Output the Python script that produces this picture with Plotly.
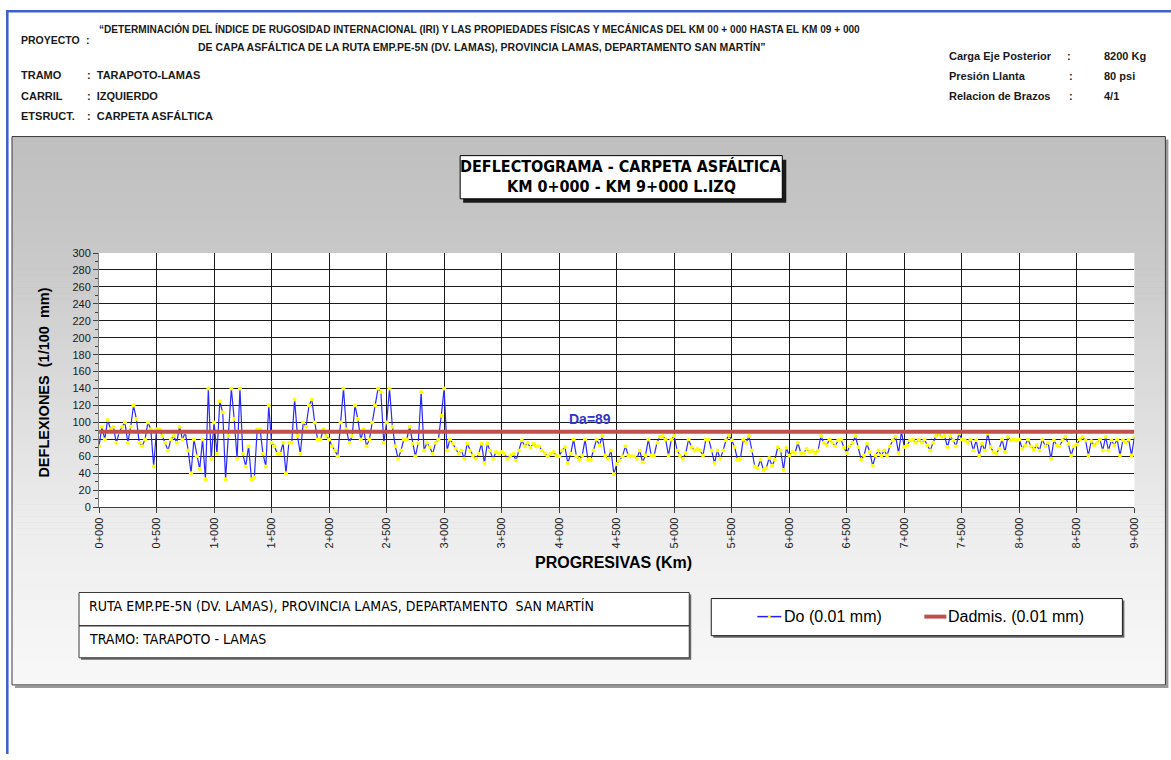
import plotly.graph_objects as go

W, H = 1171, 760
# placement of the figure on the rendered page (scale and offset, in px)
SX, SY = 0.9894, 0.980
DX, DY = 6.0, 7.0

# Progresivas (m) every 25 m along the lane, 0+000 to 9+000
estacion_m = list(range(0, 9001, 25))

# Deflexión Do (1/100 mm) measured at each station
deflexion_do = [
    72, 95, 80, 103, 92, 95, 76, 88, 95, 100, 76, 95, 120, 104, 76, 72, 80, 100, 92, 48,
    92, 92, 84, 76, 67, 80, 84, 76, 95, 80, 88, 67, 40, 80, 60, 45, 80, 33, 140, 57,
    100, 63, 125, 112, 33, 84, 140, 104, 57, 140, 63, 48, 72, 33, 35, 92, 92, 63, 48, 120,
    76, 72, 63, 63, 76, 40, 76, 76, 127, 84, 63, 100, 95, 120, 127, 100, 80, 80, 92, 84,
    80, 72, 67, 60, 100, 140, 92, 76, 84, 120, 104, 80, 92, 72, 80, 100, 120, 140, 136, 76,
    100, 140, 95, 72, 57, 67, 80, 80, 95, 75, 60, 76, 136, 67, 76, 71, 63, 76, 80, 108,
    140, 67, 80, 75, 69, 63, 67, 57, 75, 67, 61, 57, 63, 75, 52, 75, 67, 57, 65, 63,
    65, 63, 57, 61, 63, 55, 67, 79, 72, 76, 70, 75, 72, 72, 67, 64, 60, 63, 65, 61,
    60, 67, 71, 52, 63, 80, 60, 56, 61, 80, 56, 56, 67, 80, 73, 84, 61, 57, 67, 39,
    51, 55, 60, 72, 61, 60, 60, 57, 67, 53, 61, 80, 61, 61, 76, 83, 84, 80, 61, 80,
    84, 67, 61, 57, 64, 80, 71, 67, 69, 67, 61, 80, 80, 67, 52, 67, 57, 67, 79, 85,
    79, 71, 56, 57, 80, 76, 84, 67, 48, 46, 56, 44, 46, 58, 49, 56, 71, 67, 44, 70,
    61, 65, 64, 76, 64, 64, 69, 65, 67, 64, 67, 84, 76, 73, 80, 76, 72, 79, 80, 70,
    64, 72, 76, 84, 71, 56, 61, 75, 65, 49, 61, 67, 61, 67, 61, 72, 79, 83, 64, 89,
    71, 73, 79, 80, 76, 80, 76, 80, 73, 67, 76, 84, 87, 83, 84, 71, 84, 79, 72, 87,
    80, 79, 76, 80, 67, 79, 61, 75, 67, 87, 71, 65, 63, 69, 80, 65, 83, 79, 80, 79,
    80, 69, 73, 80, 72, 68, 73, 67, 80, 72, 76, 57, 79, 73, 72, 79, 83, 75, 61, 72,
    74, 80, 83, 79, 61, 78, 73, 76, 80, 67, 83, 67, 79, 73, 80, 61, 79, 76, 80, 61,
    83,
]

# Deflexión admisible (1/100 mm)
deflexion_admisible = 89
tramo_extremos_m = [0, 9000]

progresiva_ticks_m = [0, 500, 1000, 1500, 2000, 2500, 3000, 3500, 4000, 4500,
                      5000, 5500, 6000, 6500, 7000, 7500, 8000, 8500, 9000]
progresiva_labels = ["0+000", "0+500", "1+000", "1+500", "2+000", "2+500", "3+000",
                     "3+500", "4+000", "4+500", "5+000", "5+500", "6+000", "6+500",
                     "7+000", "7+500", "8+000", "8+500", "9+000"]
deflexion_ticks = [0, 20, 40, 60, 80, 100, 120, 140, 160, 180, 200,
                   220, 240, 260, 280, 300]

ARIAL = "Liberation Sans, Arial, sans-serif"
CONDENSED = "DejaVu Sans Condensed, Liberation Sans Narrow, sans-serif"


def fx(x):
    return max(0.0, (x - DX) / SX) / W


def fy(y):
    return 1 - max(0.0, (y - DY) / SY) / H


def rect(x0, y0, x1, y1, fill=None, line_color=None, line_width=1):
    return dict(type="rect", xref="paper", yref="paper",
                x0=fx(x0), x1=fx(x1), y0=fy(y1), y1=fy(y0),
                fillcolor=fill if fill else "rgba(0,0,0,0)",
                line=dict(color=line_color if line_color else "rgba(0,0,0,0)",
                          width=line_width if line_color else 0),
                layer="below")


def hline(x0, x1, y, color, width):
    return dict(type="line", xref="paper", yref="paper",
                x0=fx(x0), x1=fx(x1), y0=fy(y), y1=fy(y),
                line=dict(color=color, width=width), layer="below")


def text(x, y, s, size=11, family=ARIAL, bold=True, color="#1a1a1a",
         xanchor="left", angle=0):
    return dict(xref="paper", yref="paper", x=fx(x), y=fy(y),
                text=f"<b>{s}</b>" if bold else s, showarrow=False,
                xanchor=xanchor, yanchor="middle", textangle=angle,
                borderpad=0, font=dict(size=size, family=family, color=color))


shapes = []

# page frame (blue rule at top and left)
shapes.append(rect(6, 11, W, 13.5, fill="#3f62c8"))
shapes.append(dict(type="rect", xref="paper", yref="paper",
                   x0=0, x1=2.6 / W, y0=0, y1=fy(11),
                   fillcolor="#3f62c8", line=dict(width=0), layer="below"))

# chart area: shadow + vertical grey gradient + border
CX0, CY0, CX1, CY1 = 12, 137, 1165, 683
shapes.append(rect(CX0 + 3, CY0 + 3, CX1 + 3, CY1 + 3, fill="#9a9a9a"))
stops = [(CY0, 191), (250, 200), (520, 237), (CY1, 248)]
n_bands = 91
band_h = (CY1 - CY0) / n_bands
for k in range(n_bands):
    yc = CY0 + (k + 0.5) * band_h
    for (ya, ga), (yb, gb) in zip(stops[:-1], stops[1:]):
        if ya <= yc <= yb:
            g = round(ga + (gb - ga) * (yc - ya) / (yb - ya))
            break
    shapes.append(rect(CX0, CY0 + k * band_h, CX1, CY0 + (k + 1) * band_h + 0.6,
                       fill=f"rgb({g},{g},{g})"))
shapes.append(rect(CX0, CY0, CX1, CY1, line_color="#3a3a3a", line_width=1))

# plot area background
PX0, PX1, PY0, PY1 = 99, 1134, 253, 506
shapes.append(rect(PX0, PY0, PX1, PY1, fill="#ffffff"))

# title box
shapes.append(rect(463, 160, 786, 203, fill="#1a1a1a"))
shapes.append(rect(460, 156, 782, 199, fill="#ffffff", line_color="#000000", line_width=1))

# bottom-left info box
shapes.append(rect(81, 593, 691, 658, fill="#6a6a6a"))
shapes.append(rect(79, 591, 689, 656, fill="#ffffff", line_color="#3a3a3a", line_width=1))
shapes.append(hline(79, 689, 624, "#3a3a3a", 1.5))

# legend box
shapes.append(rect(713, 599, 1124, 636, fill="#6a6a6a"))
shapes.append(rect(711, 597, 1122, 634, fill="#ffffff", line_color="#1a1a1a", line_width=1))
shapes.append(hline(757, 781, 615, "#2020ff", 1.5))
shapes.append(dict(type="circle", xref="paper", yref="paper",
                   x0=fx(767.5), x1=fx(770.5), y0=fy(616.5), y1=fy(613.5),
                   fillcolor="#ffff00", line=dict(width=0), layer="below"))
shapes.append(hline(924, 946, 615, "#c0504d", 4))

annotations = [
    # header
    text(20, 41, "PROYECTO", size=10.5),
    text(85, 41, ":", size=10.5),
    text(479, 30, "“DETERMINACIÓN DEL ÍNDICE DE RUGOSIDAD INTERNACIONAL (IRI) Y LAS PROPIEDADES "
                  "FÍSICAS Y MECÁNICAS DEL KM 00 + 000 HASTA EL KM 09 + 000", size=10.1,
         xanchor="center"),
    text(482, 48, "DE CAPA ASFÁLTICA DE LA RUTA EMP.PE-5N (DV. LAMAS), PROVINCIA LAMAS, "
                  "DEPARTAMENTO SAN MARTÍN”", size=10.5, xanchor="center"),
    text(20, 76, "TRAMO"),
    text(86, 76, ":  TARAPOTO-LAMAS"),
    text(20, 97, "CARRIL"),
    text(86, 97, ":  IZQUIERDO"),
    text(20, 117, "ETSRUCT."),
    text(86, 117, ":  CARPETA ASFÁLTICA"),
    text(948, 57, "Carga Eje Posterior"),
    text(1066, 57, ":"),
    text(1103, 57, "8200 Kg"),
    text(948, 77, "Presión Llanta"),
    text(1068, 77, ":"),
    text(1103, 77, "80 psi"),
    text(948, 97, "Relacion de Brazos"),
    text(1068, 97, ":"),
    text(1103, 97, "4/1"),
    # chart title
    text(621, 167, "DEFLECTOGRAMA - CARPETA ASFÁLTICA", size=16, family=CONDENSED,
         color="#000000", xanchor="center"),
    text(621, 187, "KM 0+000 - KM 9+000 L.IZQ", size=16, family=CONDENSED,
         color="#000000", xanchor="center"),
    # axis titles
    text(44, 382, "DEFLEXIONES  (1/100  mm)", size=14.5, color="#000000",
         xanchor="center", angle=-90),
    text(613, 561, "PROGRESIVAS (Km)", size=16, color="#000000", xanchor="center"),
    # info box
    text(88, 604, "RUTA EMP.PE-5N (DV. LAMAS), PROVINCIA LAMAS, DEPARTAMENTO  SAN MARTÍN",
         size=14, family=CONDENSED, bold=False, color="#000000"),
    text(88, 637, "TRAMO: TARAPOTO - LAMAS", size=14, family=CONDENSED, bold=False,
         color="#000000"),
    # legend
    text(783, 615, "Do (0.01 mm)", size=16, bold=False, color="#000000"),
    text(947, 615, "Dadmis. (0.01 mm)", size=16, bold=False, color="#000000"),
]

# admissible deflection label
annotations.append(dict(x=4270, y=deflexion_admisible, xref="x", yref="y",
                        text=f"<b>Da={deflexion_admisible}</b>", showarrow=False,
                        yanchor="bottom", yshift=3,
                        font=dict(size=14, family=ARIAL, color="#3535c8")))

fig = go.Figure()
fig.add_trace(go.Scatter(
    x=estacion_m, y=deflexion_do, mode="lines+markers", name="Do (0.01 mm)",
    line=dict(color="#2a2aff", width=1.2),
    marker=dict(color="#ffff00", size=4, line=dict(width=0)),
))
fig.add_trace(go.Scatter(
    x=tramo_extremos_m, y=[deflexion_admisible] * len(tramo_extremos_m), mode="lines",
    name="Dadmis. (0.01 mm)", line=dict(color="#c0504d", width=4),
))

fig.update_layout(
    width=W, height=H, margin=dict(l=0, r=0, t=0, b=0),
    paper_bgcolor="#ffffff", plot_bgcolor="rgba(0,0,0,0)",
    showlegend=False, shapes=shapes, annotations=annotations,
    xaxis=dict(domain=[fx(PX0), fx(PX1)], range=[0, 9000],
               tickmode="array", tickvals=progresiva_ticks_m, ticktext=progresiva_labels,
               tickangle=-90, ticks="outside", ticklen=5, tickcolor="#404040",
               tickfont=dict(size=11, family=ARIAL, color="#1a1a1a"),
               showgrid=True, gridcolor="#1a1a1a", gridwidth=1,
               showline=True, linecolor="#404040", linewidth=1,
               zeroline=False, fixedrange=True),
    yaxis=dict(domain=[fy(PY1), fy(PY0)], range=[0, 300],
               tickmode="array", tickvals=deflexion_ticks,
               ticks="outside", ticklen=5, tickcolor="#404040",
               minor=dict(dtick=10, ticks="outside", ticklen=3, tickcolor="#404040",
                          showgrid=False),
               tickfont=dict(size=11, family=ARIAL, color="#1a1a1a"),
               showgrid=True, gridcolor="#1a1a1a", gridwidth=1,
               showline=True, linecolor="#808080", linewidth=1,
               zeroline=False, fixedrange=True),
)

fig.write_html("out.html")
